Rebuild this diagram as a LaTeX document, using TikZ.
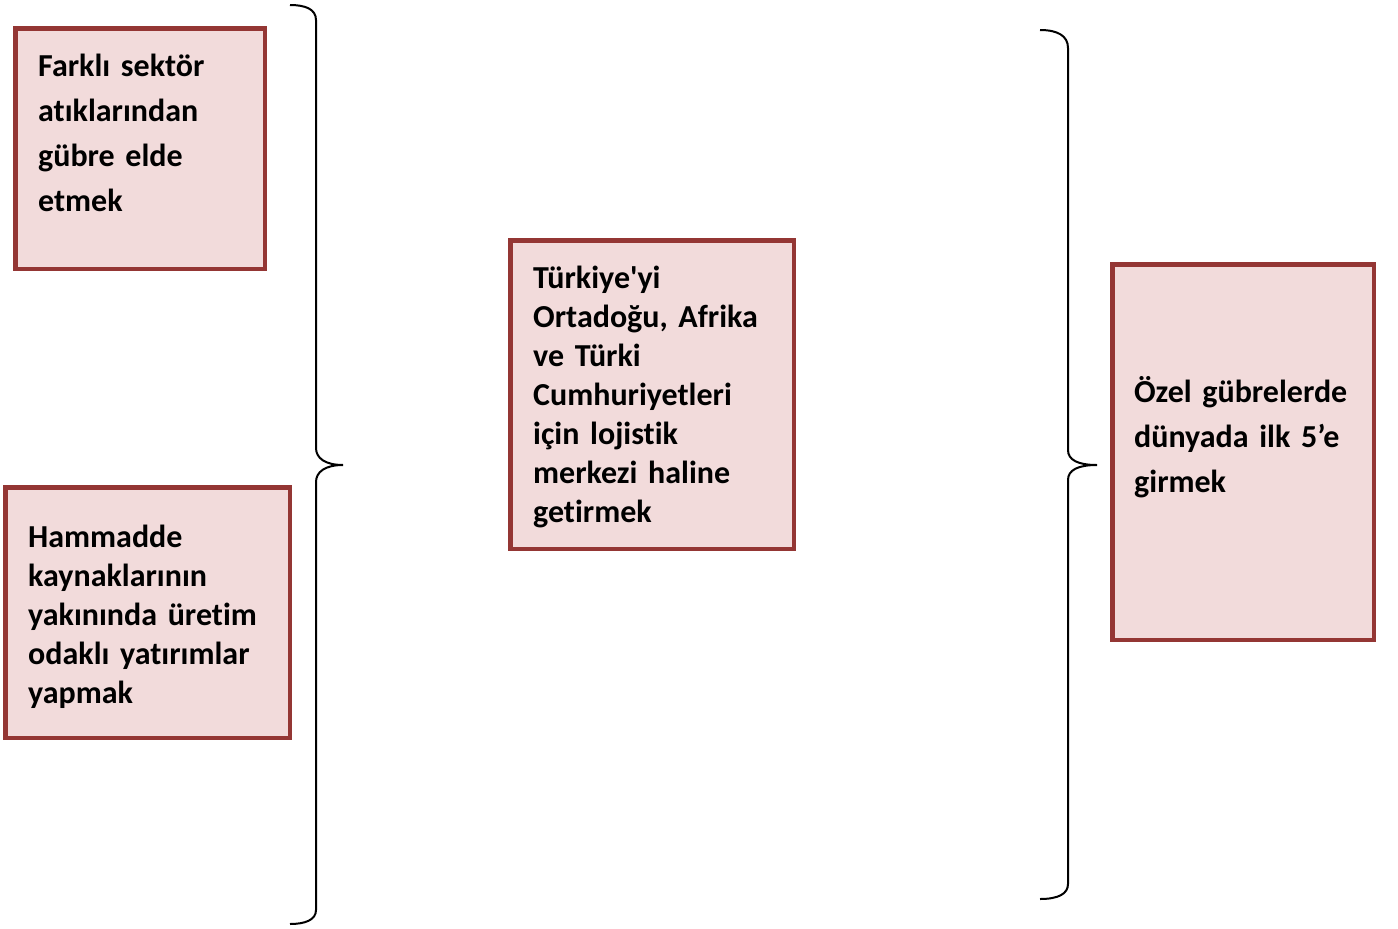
\documentclass[tikz,border=0pt]{standalone}
\usepackage{fontspec}
\newfontfamily\boxfont{Carlito}[Ligatures=NoCommon, WordSpace={0.85,0,0}]
\definecolor{boxdraw}{HTML}{943634}
\definecolor{boxfill}{HTML}{F2DBDB}
\tikzset{
  box/.style={draw=boxdraw, fill=boxfill, line width=4.5pt, rectangle, inner sep=0pt, anchor=north west},
  txt/.style={anchor=base west, inner sep=0pt, align=left, text width=#1, font=\boxfont\bfseries\fontsize{32}{39}\selectfont},
  txtw/.style={anchor=base west, inner sep=0pt, align=left, text width=#1, font=\boxfont\bfseries\fontsize{32}{45}\selectfont},
  brace/.style={line width=2pt, black}
}
\begin{document}
\begin{tikzpicture}[x=1pt,y=-1pt]
\useasboundingbox (0,0) rectangle (1398,929);
\node[box, minimum width=249.5pt, minimum height=240.5pt] (b1) at (13,26) {};
\node[box, minimum width=284.5pt, minimum height=250.5pt] (b2) at (3,485) {};
\node[box, minimum width=283.5pt, minimum height=308.5pt] (b3) at (508,238) {};
\node[box, minimum width=261.5pt, minimum height=375.5pt] (b4) at (1110,262) {};
\node[txtw=225pt] (t1) at (38,76) {Farklı sektör\\atıklarından\\gübre elde\\etmek};
\node[txt=260pt] (t2) at (28,547) {Hammadde\\kaynaklarının\\yakınında üretim\\odaklı yatırımlar\\yapmak};
\node[txt=260pt] (t3) at (533,288) {Türkiye'yi\\Ortadoğu, Afrika\\ve Türki\\Cumhuriyetleri\\için lojistik\\merkezi haline\\getirmek};
\node[txtw=240pt] (t4) at (1134,402) {Özel gübrelerde\\dünyada ilk 5’e\\girmek};
% left brace
\coordinate (lt) at (290,5);
\coordinate (lb) at (290,924);
\coordinate (ltip) at (343,465);
\draw[brace] (lt) .. controls (305,5) and (316,9) .. (316,20) -- (316,448)
  .. controls (316,458) and (325,465) .. (ltip)
  .. controls (325,465) and (316,472) .. (316,482) -- (316,910)
  .. controls (316,920) and (305,924) .. (lb);
% right brace
\coordinate (rt) at (1040,30);
\coordinate (rb) at (1040,899);
\coordinate (rtip) at (1097,465);
\draw[brace] (rt) .. controls (1058,30) and (1068,36) .. (1068,48) -- (1068,450)
  .. controls (1068,460) and (1078,465) .. (rtip)
  .. controls (1078,465) and (1068,470) .. (1068,480) -- (1068,884)
  .. controls (1068,894) and (1058,899) .. (rb);
\end{tikzpicture}
\end{document}
